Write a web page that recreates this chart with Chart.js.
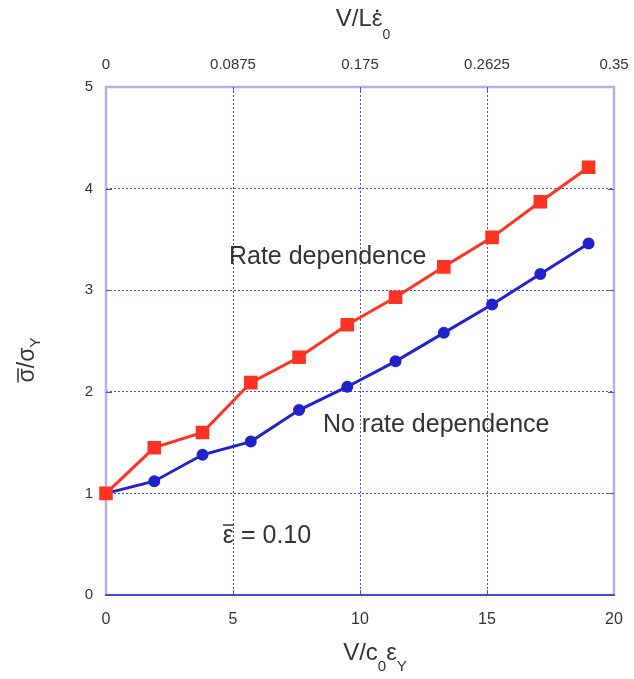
<!DOCTYPE html>
<html>
<head>
<meta charset="utf-8">
<script src="https://cdn.jsdelivr.net/npm/chart.js@4/dist/chart.umd.min.js"></script>
<style>
  html, body { margin: 0; padding: 0; background: #ffffff; }
  #wrap { width: 634px; height: 679px; }
</style>
</head>
<body>
<div id="wrap"><canvas id="c" width="634" height="679"></canvas></div>
<script>
// ---- Data ----
const xValues = [0, 1.9, 3.8, 5.7, 7.6, 9.5, 11.4, 13.3, 15.2, 17.1, 19];
const rateDependence = [1.0, 1.45, 1.60, 2.09, 2.34, 2.66, 2.93, 3.23, 3.52, 3.87, 4.21];
const noRateDependence = [1.0, 1.12, 1.38, 1.51, 1.82, 2.05, 2.30, 2.58, 2.86, 3.16, 3.46];
const bottomTicks = [0, 5, 10, 15, 20];
const topTicks = [0, 0.0875, 0.175, 0.2625, 0.35];
const topTickLabels = ['0', '0.0875', '0.175', '0.2625', '0.35'];
const yTicks = [0, 1, 2, 3, 4, 5];
const seriesLabels = ['Rate dependence', 'No rate dependence'];

const FONT = '"Liberation Sans", Arial, sans-serif';
const TICK_COLOR = '#333333';
const GRID_COLOR = '#4a4ad8';
const FRAME_COLOR = '#b0b0f0';
const FRAME_BOTTOM = '#4848cc';

function toPoints(ys) { return xValues.map((x, i) => ({ x: x, y: ys[i] })); }

// draw a sequence of text segments (some subscripted) centered at cx
function drawSegments(ctx, segs, cx, cy, size, subSize, subOff) {
  let total = 0;
  const widths = segs.map(s => {
    ctx.font = (s.sub ? subSize : size) + 'px ' + FONT;
    const w = ctx.measureText(s.t).width + (s.gap || 0);
    total += w;
    return w;
  });
  let x = cx - total / 2;
  const out = [];
  segs.forEach((s, i) => {
    ctx.font = (s.sub ? subSize : size) + 'px ' + FONT;
    ctx.textAlign = 'left';
    ctx.textBaseline = 'middle';
    const y = s.sub ? cy + subOff : cy;
    ctx.fillText(s.t, x, y);
    out.push({ x: x, w: ctx.measureText(s.t).width, y: y });
    x += widths[i];
  });
  return out;
}

function fixHorizontal(height) {
  return s => { s.height = height; s.paddingLeft = 0; s.paddingRight = 0; };
}

const decorPlugin = {
  id: 'decor',
  beforeDatasetsDraw(chart) {
    const ctx = chart.ctx;
    const a = chart.chartArea;
    const xs = chart.scales.x, ys = chart.scales.y;
    ctx.save();
    // frame
    ctx.strokeStyle = FRAME_COLOR;
    ctx.lineWidth = 2.5;
    ctx.beginPath();
    ctx.moveTo(a.left, a.bottom); ctx.lineTo(a.left, a.top);
    ctx.lineTo(a.right, a.top); ctx.lineTo(a.right, a.bottom);
    ctx.stroke();
    ctx.strokeStyle = FRAME_BOTTOM;
    ctx.lineWidth = 2;
    ctx.beginPath();
    ctx.moveTo(a.left - 1, a.bottom); ctx.lineTo(a.right + 1, a.bottom);
    ctx.stroke();
    // inward tick marks
    ctx.strokeStyle = GRID_COLOR;
    ctx.lineWidth = 1;
    ctx.beginPath();
    bottomTicks.slice(1, -1).forEach(v => {
      const px = Math.round(xs.getPixelForValue(v)) + 0.5;
      ctx.moveTo(px, a.bottom); ctx.lineTo(px, a.bottom - 5);
      ctx.moveTo(px, a.top); ctx.lineTo(px, a.top + 5);
    });
    yTicks.slice(1, -1).forEach(v => {
      const py = Math.round(ys.getPixelForValue(v)) + 0.5;
      ctx.moveTo(a.left, py); ctx.lineTo(a.left + 6, py);
      ctx.moveTo(a.right, py); ctx.lineTo(a.right - 6, py);
    });
    ctx.stroke();
    ctx.restore();
  },
  afterDraw(chart) {
    const ctx = chart.ctx;
    const xs = chart.scales.x, ys = chart.scales.y;
    ctx.save();
    ctx.fillStyle = '#333333';
    ctx.strokeStyle = '#333333';
    // bottom axis title: V/c0 εY
    drawSegments(ctx, [
      { t: 'V/c' }, { t: '0', sub: true }, { t: 'ε' }, { t: 'Y', sub: true }
    ], 375, 653, 24, 15, 14);

    // top axis title: V/L ε̇ 0
    const segTop = drawSegments(ctx, [
      { t: 'V/L' }, { t: 'ε' }, { t: '0', sub: true }
    ], 363, 19, 24, 14, 16);
    const e = segTop[1];
    ctx.beginPath();
    ctx.arc(e.x + e.w / 2, 11, 1.4, 0, Math.PI * 2);
    ctx.fill();

    // left axis title: σ̄/σY rotated
    ctx.save();
    ctx.translate(28, 360);
    ctx.rotate(-Math.PI / 2);
    const segY = drawSegments(ctx, [
      { t: 'σ' }, { t: '/σ' }, { t: 'Y', sub: true }
    ], 0, 0, 23, 15, 8);
    ctx.lineWidth = 1.5;
    ctx.beginPath();
    ctx.moveTo(segY[0].x, segY[0].y - 10);
    ctx.lineTo(segY[0].x + segY[0].w, segY[0].y - 10);
    ctx.stroke();
    ctx.restore();

    // annotations
    ctx.font = '25px ' + FONT;
    ctx.textAlign = 'left';
    ctx.textBaseline = 'middle';
    ctx.fillText(seriesLabels[0], xs.getPixelForValue(4.84), ys.getPixelForValue(3.33));
    ctx.fillText(seriesLabels[1], xs.getPixelForValue(8.54), ys.getPixelForValue(1.67));

    const ex = xs.getPixelForValue(4.6), ey = ys.getPixelForValue(0.58);
    ctx.fillText('ε = 0.10', ex, ey);
    const ew = ctx.measureText('ε').width;
    ctx.lineWidth = 1.5;
    ctx.beginPath();
    ctx.moveTo(ex, ey - 11);
    ctx.lineTo(ex + ew, ey - 11);
    ctx.stroke();
    ctx.restore();
  }
};

new Chart(document.getElementById('c'), {
  type: 'scatter',
  data: {
    datasets: [
      {
        label: seriesLabels[0],
        data: toPoints(rateDependence),
        showLine: true,
        clip: false,
        borderColor: '#ff3322',
        backgroundColor: '#ff3322',
        borderWidth: 3,
        pointStyle: 'rect',
        pointRadius: 7.5,
        pointHoverRadius: 7.5,
        xAxisID: 'x', yAxisID: 'y'
      },
      {
        label: seriesLabels[1],
        data: toPoints(noRateDependence),
        showLine: true,
        clip: false,
        borderColor: '#2222cc',
        backgroundColor: '#2222cc',
        borderWidth: 3,
        pointStyle: 'circle',
        pointRadius: 4.5,
        pointHoverRadius: 4.5,
        xAxisID: 'x', yAxisID: 'y'
      }
    ]
  },
  options: {
    responsive: false,
    animation: false,
    layout: { padding: { left: 0, right: 20, top: 0, bottom: 0 } },
    plugins: { legend: { display: false }, tooltip: { enabled: false } },
    scales: {
      x: {
        type: 'linear', position: 'bottom', min: 0, max: 20,
        afterBuildTicks: s => { s.ticks = bottomTicks.map(v => ({ value: v })); },
        afterFit: fixHorizontal(84),
        grid: { color: GRID_COLOR, lineWidth: 1, drawTicks: false },
        border: { display: false, dash: [2, 2] },
        ticks: { color: TICK_COLOR, font: { family: FONT, size: 16 }, padding: 15, maxRotation: 0 }
      },
      x2: {
        type: 'linear', position: 'top', min: 0, max: 0.35,
        afterBuildTicks: s => { s.ticks = topTicks.map(v => ({ value: v })); },
        afterFit: fixHorizontal(87),
        grid: { display: false, drawTicks: false },
        border: { display: false },
        ticks: {
          color: TICK_COLOR, font: { family: FONT, size: 15 }, padding: 13, maxRotation: 0,
          callback: (v, i) => topTickLabels[i]
        }
      },
      y: {
        type: 'linear', position: 'left', min: 0, max: 5,
        afterBuildTicks: s => { s.ticks = yTicks.map(v => ({ value: v })); },
        afterFit: s => { s.width = 106; s.paddingTop = 0; s.paddingBottom = 0; },
        grid: { color: GRID_COLOR, lineWidth: 1, drawTicks: false },
        border: { display: false, dash: [2, 2] },
        ticks: { color: TICK_COLOR, font: { family: FONT, size: 15 }, padding: 13 }
      }
    }
  },
  plugins: [decorPlugin]
});
</script>
</body>
</html>
